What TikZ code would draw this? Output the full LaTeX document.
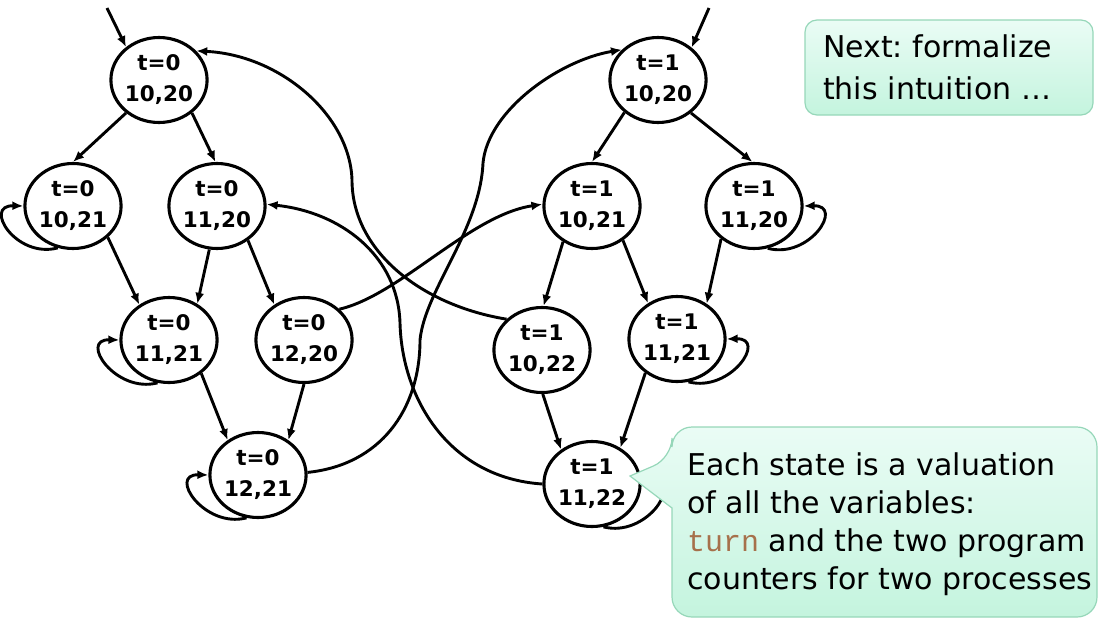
\documentclass[tikz,border=0pt]{standalone}
\usepackage{fontspec}
\setmainfont{DejaVu Sans}
\newfontfamily\monof{Liberation Mono}
\usetikzlibrary{arrows.meta,shapes.geometric}
\definecolor{boxline}{RGB}{150,215,185}
\definecolor{boxtop}{RGB}{234,252,245}
\definecolor{boxbot}{RGB}{196,244,222}
\definecolor{turnc}{RGB}{166,113,75}
\frenchspacing
\begin{document}
\begin{tikzpicture}[x=1pt,y=-1pt,
  st/.style={ellipse, draw, line width=3.1pt, minimum width=89pt, minimum height=85pt,
    inner sep=0pt, align=center, font=\bfseries\fontsize{21.5}{31}\selectfont},
  tr/.style={line width=2.9pt, -{Latex[length=11pt,width=9pt]}},
  callout/.style={draw=boxline, line width=1.2pt, top color=boxtop, bottom color=boxbot},
  ctext/.style={font=\fontsize{30}{38}\selectfont, align=left, inner sep=0pt}
]
\useasboundingbox (0,0) rectangle (1099,618);

% states t=0
\node[st] (A) at (159,80)  {t=0\\10,20};
\node[st] (B) at (73,206)  {t=0\\10,21};
\node[st] (C) at (217,206) {t=0\\11,20};
\node[st] (D) at (169,340) {t=0\\11,21};
\node[st] (E) at (304,340) {t=0\\12,20};
\node[st] (F) at (258,475) {t=0\\12,21};
% states t=1
\node[st] (G) at (658,80)  {t=1\\10,20};
\node[st] (H) at (592,206) {t=1\\10,21};
\node[st] (I) at (754,206) {t=1\\11,20};
\node[st] (J) at (542,350) {t=1\\10,22};
\node[st] (K) at (677,339) {t=1\\11,21};
\node[st] (L) at (592,484) {t=1\\11,22};

% initial arrows
\coordinate (a0) at (107,8);
\coordinate (g0) at (709,8);
\draw[tr] (a0) -- (A.135);
\draw[tr] (g0) -- (G.44);

% straight transitions
\draw[tr] (A.-135) -- (B.90);
\draw[tr] (A.-45) -- (C.92);
\draw[tr] (B.-42) -- (D.130);
\draw[tr] (C.-100) -- (D.52);
\draw[tr] (C.-48) -- (E.130);
\draw[tr] (D.-46) -- (F.131);
\draw[tr] (E.-90) -- (F.49);
\draw[tr] (G.-136) -- (H.90);
\draw[tr] (G.-45) -- (I.92);
\draw[tr] (H.-129) -- (J.88);
\draw[tr] (H.-48) -- (K.129);
\draw[tr] (I.-135) -- (K.50);
\draw[tr] (J.-89) -- (L.132);
\draw[tr] (K.-133) -- (L.52);

% self loops
\draw[tr] (B.-110) .. controls +(-42,11) and +(-41,-1) .. (B.180);
\draw[tr] (D.-105) .. controls +(-42,11) and +(-41,-1) .. (D.180);
\draw[tr] (F.-105) .. controls +(-42,11) and +(-41,-1) .. (F.180);
\draw[tr] (I.-72) .. controls +(42,11) and +(41,-1) .. (I.0);
\draw[tr] (K.-75) .. controls +(42,11) and +(41,-1) .. (K.0);
\draw[tr] (L.-75) .. controls +(42,11) and +(41,-1) .. (L.0);

% crossing transitions
\draw[tr] (J.139) .. controls (420,305) and (352,250) .. (352,180)
  .. controls (350,115) and (280,55) .. (A.38);
\draw[tr] (E.41) .. controls (400,295) and (470,215) .. (H.178);
\draw[tr] (F.3) .. controls (380,465) and (420,410) .. (420,340)
  .. controls (425,290) and (480,230) .. (483,163)
  .. controls (488,110) and (560,60) .. (G.140);
\draw[tr] (L.180) .. controls (450,478) and (402,400) .. (400,323)
  .. controls (398,255) and (340,212) .. (C.2);

% callout 1
\node[callout, rounded corners=12pt, minimum width=288pt, minimum height=95pt,
  text width=252pt, inner xsep=18pt, inner ysep=0pt, align=left,
  font=\fontsize{30}{42}\selectfont] (nx) at (949,67.5) {Next: formalize\\this intuition …};

% callout 2
\path[callout] (672,560) [rounded corners=20pt] -- (672,617) -- (1097,617) -- (1097,427)
  -- (672,427) -- (672,458) [sharp corners] -- (630,476) -- (672,508) -- cycle;
\node[ctext, anchor=north west] (ex) at (687,452)
  {Each state is a valuation\\of all the variables:\\{\monof\color{turnc}turn} and the two program\\counters for two processes};
\end{tikzpicture}
\end{document}
